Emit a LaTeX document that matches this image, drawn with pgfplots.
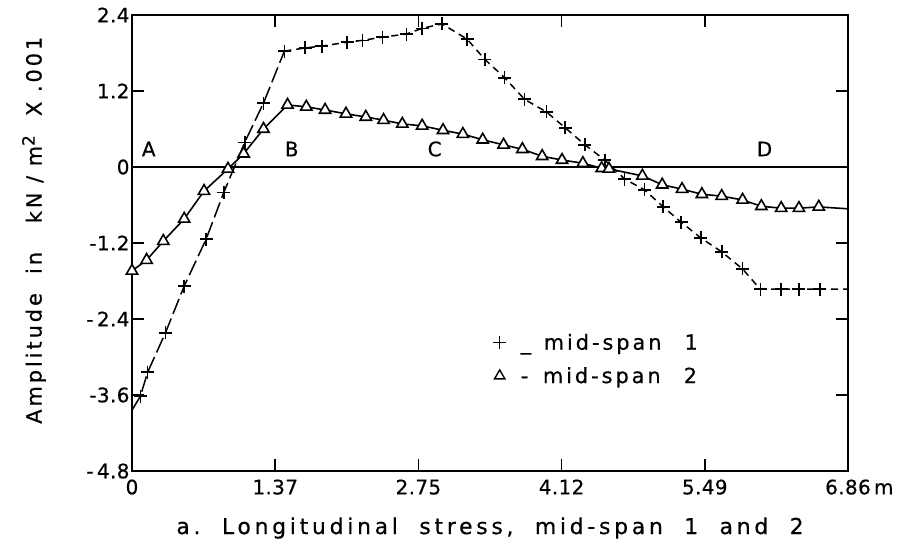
\documentclass[border=0pt]{standalone}
\usepackage{fontspec}
\setmainfont[FakeBold=0.5]{DejaVu Sans}
\newfontfamily\lsfont[LetterSpace=14,FakeBold=0.5]{DejaVu Sans}
\newfontfamily\ttlfont[LetterSpace=17,FakeBold=0.5]{DejaVu Sans}
\newfontfamily\tkfont[LetterSpace=2,FakeBold=0.5]{DejaVu Sans}
\usepackage{pgfplots}
\pgfplotsset{compat=1.18}
\begin{document}
\begin{tikzpicture}
\begin{axis}[
  at={(0,0)}, anchor=south west,
  width=716bp, height=456bp, scale only axis,
  xmin=0, xmax=6.86, ymin=-4.8, ymax=2.4,
  axis line style={line width=1.6bp},
  every tick/.style={line width=1.4bp, black},
  major tick length=12bp,
  xtick={0,1.372,2.744,4.116,5.488,6.86},
  xticklabels={0,1.37,2.75,4.12,5.49,{6.86\rlap{\,m}}},
  ytick={-4.8,-3.6,-2.4,-1.2,0,1.2,2.4},
  yticklabels={-\,4.8,-3.6,-\,2.4,-1.2,0,1.2,2.4},
  tick label style={font=\tkfont\fontsize{20}{22}\selectfont},
  xticklabel style={yshift=-5bp},
  yticklabel style={xshift=1bp},
  xlabel={a.\ \ Longitudinal\ \ stress\,,\ \ mid-span\ \ 1\ \ and\ \ 2},
  ylabel={Amplitude\ \ in\ \ \ kN\ /\ m\raisebox{0.6ex}{\fontsize{17}{17}\selectfont 2}\ \ X\ .001},
  every axis x label/.style={at={(rel axis cs:0.5,-0.125)}, anchor=center, font=\ttlfont\fontsize{22}{24}\selectfont},
  every axis y label/.style={at={(rel axis cs:-0.1369,0.528)}, rotate=90, anchor=center, font=\lsfont\fontsize{21}{24}\selectfont},
  legend style={draw=none, fill=none, at={(rel axis cs:0.50,0.31)}, anchor=north west, font=\lsfont\fontsize{21}{24}\selectfont, row sep=12bp},
  legend cell align=left,
]
% zero line with markers of positions A-D
\draw[line width=1.2bp] (axis cs:0,0) -- (axis cs:6.86,0);
\draw[line width=1.2bp] (axis cs:1.51,0) ++(0,-7bp) -- ++(0,14bp);
\draw[line width=1.2bp] (axis cs:3.03,0) ++(0,-7bp) -- ++(0,14bp);
\draw[line width=1.2bp] (axis cs:6.06,0) ++(0,-7bp) -- ++(0,14bp);
\node[anchor=base, font=\fontsize{20}{22}\selectfont] at (axis cs:0.16,0.17) {A};
\node[anchor=base, font=\fontsize{20}{22}\selectfont] at (axis cs:1.53,0.17) {B};
\node[anchor=base, font=\fontsize{20}{22}\selectfont] at (axis cs:2.90,0.17) {C};
\node[anchor=base, font=\fontsize{20}{22}\selectfont] at (axis cs:6.06,0.17) {D};

% mid-span 2 line
\addplot[forget plot, line width=1.6bp, black] coordinates {
(0,-1.64) (0.14,-1.47) (0.30,-1.17) (0.50,-0.82) (0.69,-0.38) (0.92,-0.03) (1.07,0.21) (1.26,0.60) (1.49,0.98) (1.67,0.95) (1.85,0.90) (2.05,0.84) (2.24,0.79) (2.41,0.74) (2.59,0.68) (2.78,0.65) (2.98,0.58) (3.17,0.52) (3.36,0.43) (3.56,0.35) (3.74,0.28) (3.93,0.17) (4.12,0.11) (4.32,0.06) (4.50,-0.02) (4.57,-0.03) (4.89,-0.14) (5.08,-0.28) (5.27,-0.35) (5.46,-0.43) (5.65,-0.46) (5.85,-0.52) (6.03,-0.62) (6.22,-0.65) (6.39,-0.65) (6.58,-0.63) (6.86,-0.66)};

% mid-span 1 lines
\addplot[forget plot, line width=1.5bp, black, dash pattern=on 16bp off 5bp] coordinates {
(0,-3.84) (0.08,-3.62) (0.15,-3.24) (0.32,-2.62) (0.50,-1.88) (0.71,-1.14) (0.88,-0.40) (1.08,0.39) (1.26,1.01) (1.46,1.83)};
\addplot[forget plot, line width=1.5bp, black, dash pattern=on 7bp off 5bp] coordinates {
(1.46,1.83) (1.66,1.88) (1.82,1.91) (2.06,1.97) (2.21,2.00) (2.40,2.05) (2.63,2.10) (2.78,2.19) (2.97,2.26) (3.21,2.02) (3.38,1.70) (3.57,1.41) (3.76,1.07) (3.97,0.87) (4.15,0.62) (4.34,0.35) (4.53,0.11) (4.72,-0.19) (4.91,-0.36) (5.09,-0.63) (5.26,-0.87) (5.45,-1.12) (5.65,-1.34) (5.85,-1.61) (6.02,-1.93) (6.22,-1.93) (6.39,-1.93) (6.59,-1.93) (6.86,-1.93)};

% mid-span 1 marks
\addplot[forget plot, only marks, mark=+, mark size=6.5bp, line width=1.6bp, black] coordinates {
(0.08,-3.62) (0.15,-3.24) (0.32,-2.62) (0.50,-1.88) (0.71,-1.14) (0.88,-0.40) (1.08,0.39) (1.26,1.01) (1.46,1.83) (1.66,1.88) (1.82,1.91) (2.06,1.97) (2.21,2.00) (2.40,2.05) (2.63,2.10) (2.78,2.19) (2.97,2.26) (3.21,2.02) (3.38,1.70) (3.57,1.41) (3.76,1.07) (3.97,0.87) (4.15,0.62) (4.34,0.35) (4.53,0.11) (4.72,-0.19) (4.91,-0.36) (5.09,-0.63) (5.26,-0.87) (5.45,-1.12) (5.65,-1.34) (5.85,-1.61) (6.02,-1.93) (6.22,-1.93) (6.39,-1.93) (6.59,-1.93)};

% mid-span 2 marks
\addplot[forget plot, only marks, mark=triangle*, mark size=6.5bp, mark options={fill=white, draw=black, line width=1.6bp}] coordinates {
(0,-1.64) (0.14,-1.47) (0.30,-1.17) (0.50,-0.82) (0.69,-0.38) (0.92,-0.03) (1.07,0.21) (1.26,0.60) (1.49,0.98) (1.67,0.95) (1.85,0.90) (2.05,0.84) (2.24,0.79) (2.41,0.74) (2.59,0.68) (2.78,0.65) (2.98,0.58) (3.17,0.52) (3.36,0.43) (3.56,0.35) (3.74,0.28) (3.93,0.17) (4.12,0.11) (4.32,0.06) (4.50,-0.02) (4.57,-0.03) (4.89,-0.14) (5.08,-0.28) (5.27,-0.35) (5.46,-0.43) (5.65,-0.46) (5.85,-0.52) (6.03,-0.62) (6.22,-0.65) (6.39,-0.65) (6.58,-0.63)};

\addlegendimage{only marks, mark=+, mark size=6.5bp, line width=1.6bp, black}
\addlegendentry{\hspace{0.6em}\_\hspace{0.6em}mid-span\hspace{1.1em}1}
\addlegendimage{only marks, mark=triangle, mark size=6bp, line width=1.4bp, black}
\addlegendentry{\hspace{0.6em}-\hspace{0.7em}mid-span\hspace{1.1em}2}
\end{axis}
\pgfresetboundingbox
\path (-132bp,-85bp) rectangle (772bp,471bp);
\end{tikzpicture}
\end{document}
